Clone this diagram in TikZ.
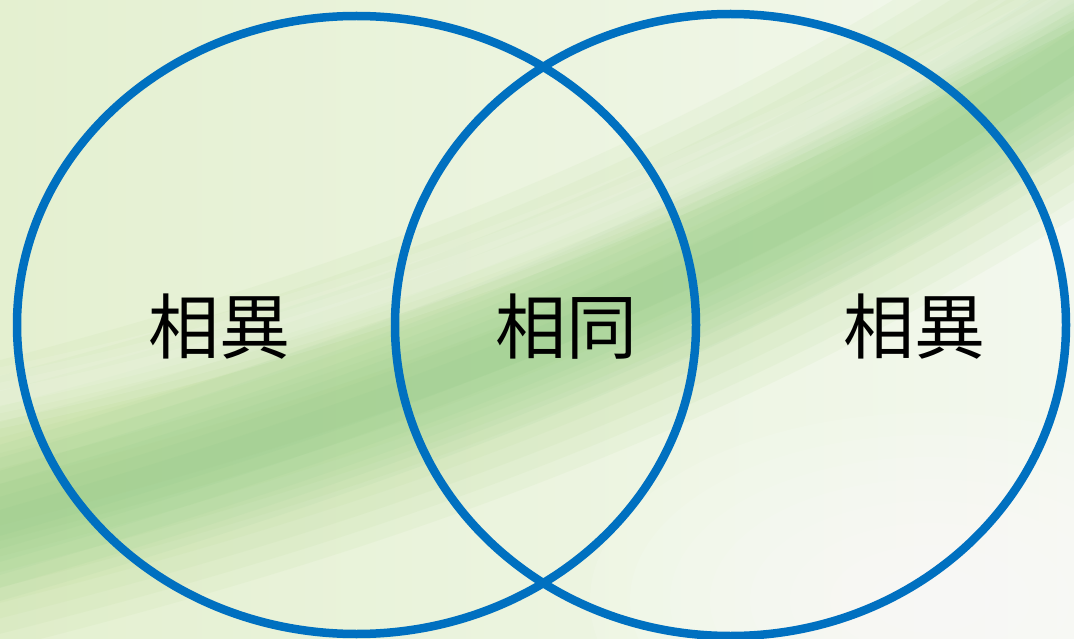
\documentclass[tikz,border=0pt]{standalone}
\usepackage{fontspec}
\usetikzlibrary{shapes.geometric}
\newfontfamily\cjk{Noto Sans CJK TC}
\definecolor{vblue}{HTML}{0070C0}
\definecolor{bgl}{HTML}{E4F0D0}
\definecolor{bgr}{HTML}{F3F8EE}
\definecolor{bandy}{HTML}{A8D27E}
\definecolor{bandg}{HTML}{6FC07A}
\begin{document}
\begin{tikzpicture}[x=1pt,y=-1pt,
  venn/.style={draw=vblue,line width=8.5pt},
  lbl/.style={font=\cjk\fontsize{71}{71}\selectfont,text=black,inner sep=0pt}]
\useasboundingbox (0,0) rectangle (1074,639);
% background
\shade[left color=bgl,right color=bgr] (0,0) rectangle (1074,639);
\begin{scope}
\clip (0,0) rectangle (1074,639);
\foreach \r in {340,300,...,60} {
  \fill[white,opacity=0.12] (930,600) ellipse ({\r} and {0.55*\r});
}
\foreach \w in {280,250,...,40} {
  \draw[bandy,opacity=0.08,line width=\w pt] (-60,520) .. controls (300,430) and (700,310) .. (1120,20);
}
\foreach \w in {150,125,...,25} {
  \draw[bandg,opacity=0.06,line width=\w pt] (-60,540) .. controls (400,410) and (750,280) .. (1120,30);
}
\foreach \w in {60,45,...,15} {
  \draw[white,opacity=0.1,line width=\w pt] (-60,410) .. controls (250,350) and (600,250) .. (1120,-30);
}
\end{scope}
% circles
\node[venn,ellipse,minimum width=679pt,minimum height=618pt,inner sep=0pt] (L) at (356.5,325) {};
\node[venn,ellipse,minimum width=671pt,minimum height=622pt,inner sep=0pt] (R) at (730.5,325) {};
\node[lbl] (t1) at (219,327) {相異};
\node[lbl] (t2) at (566,327) {相同};
\node[lbl] (t3) at (914,327) {相異};
\end{tikzpicture}
\end{document}
